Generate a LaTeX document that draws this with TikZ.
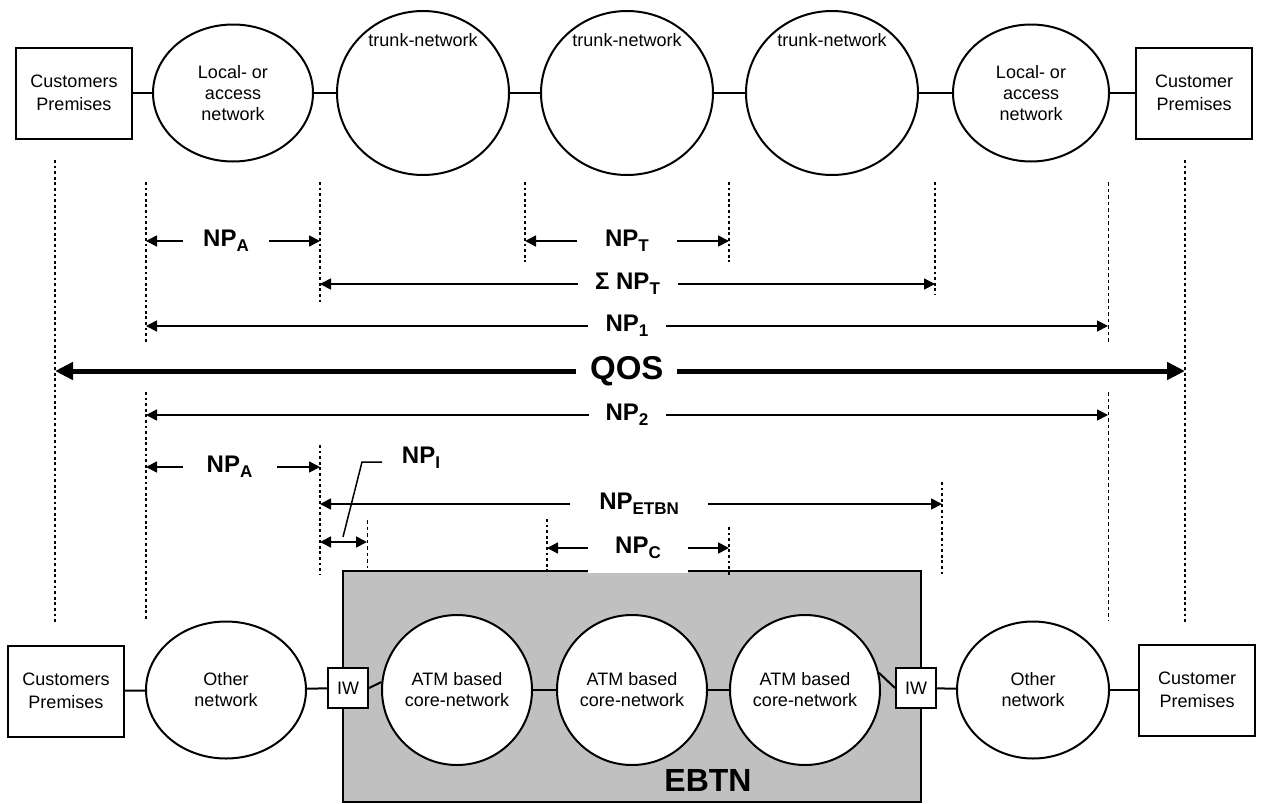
\documentclass[tikz,border=0pt]{standalone}
\usepackage{fontspec}
\setmainfont{Liberation Sans}
\usetikzlibrary{arrows.meta,shapes.geometric}
\definecolor{ebtngray}{RGB}{192,192,192}
\newcommand{\np}[1]{NP\raisebox{-5pt}{\fontsize{17}{17}\selectfont #1}}

\begin{document}
\begin{tikzpicture}[x=1pt, y=-1pt,
    every node/.style={font=\fontsize{18}{21}\selectfont},
    prem/.style={draw, line width=2pt, minimum width=116pt, minimum height=91pt, inner sep=0pt, align=center, font=\fontsize{18}{23}\selectfont},
    net/.style={draw, ellipse, line width=2pt, minimum width=160pt, minimum height=137pt, inner sep=0pt, align=center},
    trunk/.style={draw, ellipse, line width=2pt, minimum width=172pt, minimum height=164pt, inner sep=0pt,
        label={[anchor=center, yshift=-30pt]north:trunk-network}},
    atm/.style={draw, circle, fill=white, line width=2pt, minimum size=150pt, inner sep=0pt, align=center},
    iw/.style={draw, fill=white, line width=2pt, minimum size=40pt, inner sep=0pt},
    link/.style={line width=2pt},
    guide/.style={line width=1.8pt, dash pattern=on 2.8pt off 2.8pt},
    guidethin/.style={line width=1pt, dash pattern=on 3.5pt off 3pt},
    dim/.style={line width=1.7pt, {Triangle[length=11pt,width=11pt]}-{Triangle[length=11pt,width=11pt]}},
    qos/.style={line width=5pt, {Triangle[length=18pt,width=17pt]}-{Triangle[length=18pt,width=17pt]}},
    lbl/.style={fill=white, inner xsep=0pt, inner ysep=3pt, font=\fontsize{24}{24}\bfseries\selectfont}]
    \useasboundingbox (0,0) rectangle (1263,803);

    % top chain
    \node[prem] (cpL) at (74,93) {Customers\\Premises};
    \node[net] (locL) at (233,93) {Local- or\\access\\network};
    \node[trunk] (tr1) at (423,93) {};
    \node[trunk] (tr2) at (627,93) {};
    \node[trunk] (tr3) at (832,93) {};
    \node[net, minimum width=156pt] (locR) at (1031,93) {Local- or\\access\\network};
    \node[prem] (cpR) at (1194,93) {Customer\\Premises};
    \draw[link] (cpL) -- (locL) -- (tr1) -- (tr2) -- (tr3) -- (locR) -- (cpR);

    % bottom chain
    \node[draw, fill=ebtngray, line width=2pt, minimum width=578pt, minimum height=231pt, inner sep=0pt] (ebtn) at (632,686.5) {};
    \node[font=\fontsize{32}{32}\bfseries\selectfont] (ebtnlbl) at (708,780) {EBTN};
    \node[prem] (cpBL) at (66,691) {Customers\\Premises};
    \node[net] (othL) at (226,690) {Other\\network};
    \node[iw] (iwL) at (348,688) {IW};
    \node[atm] (atm1) at (457,690) {ATM based\\core-network};
    \node[atm] (atm2) at (632,690) {ATM based\\core-network};
    \node[atm] (atm3) at (805,690) {ATM based\\core-network};
    \node[iw] (iwR) at (916,688) {IW};
    \node[net, minimum width=152pt] (othR) at (1033,690) {Other\\network};
    \node[prem] (cpBR) at (1197,690) {Customer\\Premises};
    \draw[link] (cpBL) -- (othL);
    \draw[link] (othL) -- (iwL);
    \draw[link] (iwL.east) -- (atm1.174);
    \draw[link] (atm1) -- (atm2);
    \draw[link] (atm2) -- (atm3);
    \draw[link] (atm3.13) -- (iwR.west);
    \draw[link] (iwR) -- (othR);
    \draw[link] (othR) -- (cpBR);

    % dotted guides
    \foreach \x/\ya/\yb in {55/160/622, 1185/160/622, 146/182/343, 146/392/620,
        320/182/305, 320/445/575, 525/182/262, 729/182/262, 935/182/295,
        547/519/575, 729/527/575, 942/482/575}
        \draw[guide] (\x,\ya) -- (\x,\yb);
    \foreach \x/\ya/\yb in {1108/182/343, 1108/392/620, 367/520/568}
        \draw[guidethin] (\x,\ya) -- (\x,\yb);

    % measures
    \foreach \n/\xa/\xb/\y in {npAt/146/320/241, npT/525/729/241, sumT/320/935/284,
        npOne/146/1108/326, qos/55/1185/371, npTwo/146/1108/415, npAb/146/320/467,
        etbn/320/942/504, npI/320/367/542, npC/547/729/548} {
        \coordinate (\n-l) at (\xa,\y);
        \coordinate (\n-r) at (\xb,\y);
    }
    \draw[dim] (npAt-l) -- node[lbl, minimum width=86pt, pos=.46] (lblAt) {\np{A}} (npAt-r);
    \draw[dim] (npT-l) -- node[lbl, minimum width=100pt] (lblT) {\np{T}} (npT-r);
    \draw[dim] (sumT-l) -- node[lbl, minimum width=100pt] (lblSum) {Σ \np{T}} (sumT-r);
    \draw[dim] (npOne-l) -- node[lbl, minimum width=78pt] (lblOne) {\np{1}} (npOne-r);
    \draw[qos] (qos-l) -- node[lbl, minimum width=101pt, pos=.506, font=\fontsize{33}{33}\bfseries\selectfont] (lblQos) {QOS} (qos-r);
    \draw[dim] (npTwo-l) -- node[lbl, minimum width=77pt, pos=.50] (lblTwo) {\np{2}} (npTwo-r);
    \draw[dim] (npAb-l) -- node[lbl, minimum width=94pt, pos=.48] (lblAb) {\np{A}} (npAb-r);
    \draw[dim] (etbn-l) -- node[lbl, minimum width=138pt, pos=.513] (lblEtbn) {\np{ETBN}} (etbn-r);
    \draw[dim] (npI-l) -- (npI-r);
    \draw[dim] (npC-l) -- node[lbl, minimum width=100pt, minimum height=50pt] (lblC) {\np{C}} (npC-r);

    % NP_I leader
    \node[font=\fontsize{24}{24}\bfseries\selectfont] (lblI) at (421,458) {\np{I}};
    \coordinate (npIlead) at (382,462);
    \coordinate (npIbend) at (362,462);
    \coordinate (npIfoot) at (343,537);
    \draw[line width=1.5pt] (npIlead) -- (npIbend) -- (npIfoot);
\end{tikzpicture}
\end{document}
